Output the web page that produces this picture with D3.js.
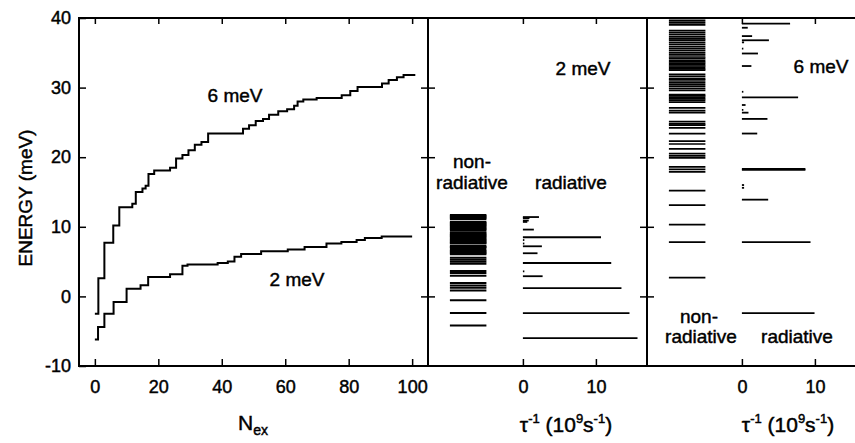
<!DOCTYPE html>
<html><head><meta charset="utf-8">
<script src="https://cdn.jsdelivr.net/npm/d3@7"></script>
<style>
body{margin:0;background:#fff}
text{font-family:"Liberation Sans",Arial,Helvetica,sans-serif;fill:#000;stroke:#000;stroke-width:0.45px}
</style>
</head><body>
<svg id="c" width="855" height="443"></svg>
<script>
// ---------- data ----------
const energyTicks = [-10, 0, 10, 20, 30, 40];
const nexTicks = [0, 20, 40, 60, 80, 100];
const rateTicks = [0, 10];

// 6 meV staircase: N at which plateau starts, plateau energy
const curve6N = [0,1.1,3,5.8,7.7,11.8,12.9,15,16,16.9,18.7,23.7,25.6,27.6,29.5,31.5,33.6,35.7,46.7,48.6,50.7,53,54.9,57.8,60.6,62.8,63.9,65.7,69.9,77.8,80.5,82.8,90.5,92.6,95.2,97.3,101];
const curve6E = [-2.5,2.6,7.7,10.2,12.8,13.3,15.0,15.5,15.9,17.6,18.1,18.5,19.8,20.3,21.0,21.8,22.2,23.4,24.1,24.6,25.2,25.5,26.1,26.6,26.9,27.4,28.0,28.3,28.5,28.9,29.5,30.1,30.6,31.1,31.5,31.8,31.8];

// 2 meV staircase
const curve2N = [0,1,3,5.9,10,14.4,16.8,23.7,27.6,29.2,38.7,41.9,44,46.1,52.4,60.8,66.1,73,77.7,82.5,85.1,90.4,100];
const curve2E = [-6.2,-4.4,-2.5,-0.8,1.1,1.6,2.8,3.2,4.4,4.6,4.8,5.0,5.7,6.1,6.5,6.75,7.1,7.6,7.8,8.1,8.4,8.6,8.6];

// 2 meV: non-radiative levels (energy)
const nonrad2E = [11.7,11.55,11.4,11.25,11.1,10.7,10.55,10.4,10.25,10.1,9.95,9.8,9.65,9.5,
  9.2,9.05,8.9,8.75,8.6,8.45,8.3,8.15,8.0,7.85,7.7,7.6,
  7.25,7.1,6.95,6.65,6.5,6.35,6.2,6.05,
  5.56,5.27,4.98,4.70,3.64,3.35,2.97,1.91,1.58,1.25,0.86,-0.57,-2.4,-4.17];
// 2 meV: radiative levels (energy, rate 1/tau in 1e9 s^-1)
const rad2E    = [11.4,11.25,10.9,10.7,9.6,8.5,8.1,7.6,7.2,6.2,4.8,3.6,2.9,1.2,-2.4,-6.0];
const rad2Rate = [2.2,0.9,0.8,0.6,1.5,10.7,0.2,0.2,2.6,2.0,12.1,0.2,2.7,13.5,14.6,15.7];

// 6 meV: non-radiative levels
const nonrad6E = [39.9,39.6,39.3,39.0,
  38.2,37.9,37.6,37.3,37.0,
  36.8,36.5,36.2,35.9,
  35.6,35.3,35.0,34.7,34.4,34.2,
  33.9,33.7,33.5,33.3,33.1,32.9,32.7,32.5,
  31.9,31.6,31.3,31.1,30.8,
  30.5,30.2,29.9,29.6,
  29.0,28.8,28.6,28.4,28.2,27.9,
  27.1,26.7,26.4,25.1,24.8,24.6,24.2,23.4,22.3,21.9,21.2,
  20.5,20.2,19.9,18.6,18.25,17.9,15.2,13.1,10.3,7.8,2.7];
// 6 meV: radiative levels
const rad6E    = [39.2,38.6,37.4,36.8,36.5,35.6,34.9,33.1,29.4,28.6,27.5,26.8,26.4,25.5,23.4,18.32,18.18,16.0,15.6,13.9,7.8,-2.4];
const rad6Rate = [6.6,0.8,1.4,3.7,0.3,0.2,2.2,1.3,0.2,7.7,0.5,0.2,0.9,3.5,2.1,8.7,8.7,0.3,0.3,3.6,9.4,9.95];

const nonradSpan = [-10, -5]; // column of non-radiative levels in rate units

// ---------- layout ----------
const svg = d3.select("#c");
const yTop = 18, yBot = 366;
const y = d3.scaleLinear().domain([-10, 40]).range([yBot, yTop]);
const xN = d3.scaleLinear().domain([-5, 105]).range([79, 428]);
const xR2 = d3.scaleLinear().domain([-13, 17]).range([428, 647]);
const xR6 = d3.scaleLinear().domain([-13, 17]).range([647, 866]);

function styleAxis(g){
  g.select(".domain").remove();
  g.selectAll(".tick line").attr("stroke","#000").attr("stroke-width",1.5);
  g.selectAll(".tick text").style("font-size","18px").attr("fill","#000");
}

// Left panel axes
svg.append("g").attr("transform",`translate(79,0)`)
  .call(d3.axisLeft(y).tickValues(energyTicks).tickSize(-7).tickPadding(8).tickFormat(d=>String(d)))
  .call(styleAxis);
svg.append("g").attr("transform",`translate(0,${yBot})`)
  .call(d3.axisBottom(xN).tickValues(nexTicks).tickSize(-7).tickPadding(14))
  .call(styleAxis);
svg.append("g").attr("transform",`translate(0,${yTop})`)
  .call(d3.axisTop(xN).tickValues(nexTicks).tickSize(-6).tickFormat(""))
  .call(styleAxis);
svg.append("g").attr("transform",`translate(428,0)`)
  .call(d3.axisRight(y).tickValues(energyTicks.slice(1,5)).tickSize(-7).tickFormat(""))
  .call(styleAxis);

// Middle & right panels
[[xR2,428,647],[xR6,647,866]].forEach(([xs,x0,x1])=>{
  svg.append("g").attr("transform",`translate(0,${yBot})`)
    .call(d3.axisBottom(xs).tickValues(rateTicks).tickSize(-7).tickPadding(14))
    .call(styleAxis);
  svg.append("g").attr("transform",`translate(0,${yTop})`)
    .call(d3.axisTop(xs).tickValues(rateTicks).tickSize(-6).tickFormat(""))
    .call(styleAxis);
  svg.append("g").attr("transform",`translate(${x0},0)`)
    .call(d3.axisLeft(y).tickValues(energyTicks.slice(1,5)).tickSize(-7).tickFormat(""))
    .call(styleAxis);
  svg.append("g").attr("transform",`translate(${x1},0)`)
    .call(d3.axisRight(y).tickValues(energyTicks.slice(1,5)).tickSize(-7).tickFormat(""))
    .call(styleAxis);
});

// Frames
[[79,428],[428,647],[647,866]].forEach(([a,b])=>{
  svg.append("rect").attr("x",a).attr("y",yTop).attr("width",b-a).attr("height",yBot-yTop)
    .attr("fill","none").attr("stroke","#000").attr("stroke-width",2);
});

// Staircases
const step = d3.line().curve(d3.curveStepAfter);
function stair(Ns, Es){
  return step(Ns.map((n,i)=>[xN(n), y(Es[i])]));
}
svg.append("path").attr("d",stair(curve6N,curve6E)).attr("fill","none").attr("stroke","#000").attr("stroke-width",2);
svg.append("path").attr("d",stair(curve2N,curve2E)).attr("fill","none").attr("stroke","#000").attr("stroke-width",2);

// Level diagrams
function levels(xs, nonE, radE, radR, nrWidth){
  const g = svg.append("g");
  g.selectAll("line.nr").data(nonE).join("line").attr("class","nr")
    .attr("x1",xs(nonradSpan[0])).attr("x2",xs(nonradSpan[1]))
    .attr("y1",d=>y(d)).attr("y2",d=>y(d))
    .attr("stroke","#000").attr("stroke-width",nrWidth);
  g.selectAll("line.r").data(radE).join("line").attr("class","r")
    .attr("x1",xs(0)).attr("x2",(d,i)=>xs(radR[i]))
    .attr("y1",d=>y(d)).attr("y2",d=>y(d))
    .attr("stroke","#000").attr("stroke-width",1.8);
}
levels(xR2, nonrad2E, rad2E, rad2Rate, 2.0);
levels(xR6, nonrad6E, rad6E, rad6Rate, 1.7);

// Labels
function label(x, yy, txt, anchor="middle"){
  return svg.append("text").attr("x",x).attr("y",yy).attr("text-anchor",anchor)
    .style("font-size","19px").text(txt);
}
label(235,102,"6 meV");
label(297,286,"2 meV");
label(583,75,"2 meV");
label(472,168,"non-");
label(472,189,"radiative");
label(571,189,"radiative");
label(821,73,"6 meV");
label(699,323,"non-");
label(701,343,"radiative");
label(797,343,"radiative");

// y axis title
svg.append("text").attr("transform","translate(32,198) rotate(-90)")
  .attr("text-anchor","middle").style("font-size","19px").text("ENERGY (meV)");

// N_ex
const nt = svg.append("text").attr("x",253).attr("y",430).attr("text-anchor","middle").style("font-size","21px");
nt.append("tspan").text("N");
nt.append("tspan").attr("dy",5).style("font-size","14px").text("ex");

// tau^-1 (10^9 s^-1)
function tauLabel(cx){
  const t = svg.append("text").attr("x",cx).attr("y",432).attr("text-anchor","middle").style("font-size","21px");
  t.append("tspan").text("\u03C4");
  t.append("tspan").attr("dy",-9).style("font-size","13px").text("-1");
  t.append("tspan").attr("dy",9).text(" (10");
  t.append("tspan").attr("dy",-9).style("font-size","13px").text("9");
  t.append("tspan").attr("dy",9).text("s");
  t.append("tspan").attr("dy",-9).style("font-size","13px").text("-1");
  t.append("tspan").attr("dy",9).text(")");
}
tauLabel(566);
tauLabel(788);
</script>
</body></html>
